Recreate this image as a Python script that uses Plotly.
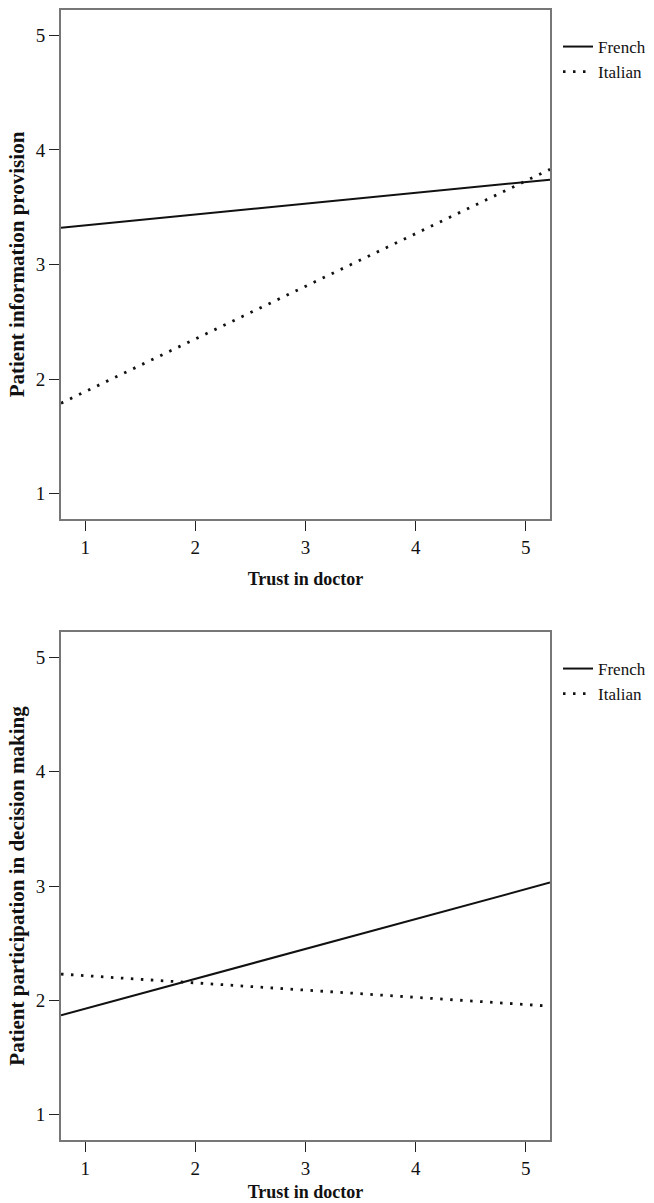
import plotly.graph_objects as go

# Data: fitted lines (endpoints at axis range limits)
trust = [0.78, 5.22]
info_french = [3.32, 3.74]
info_italian = [1.79, 3.83]
decision_french = [1.87, 3.03]
decision_italian = [2.23, 1.95]
tick_vals = [1, 2, 3, 4, 5]
tick_text = ["1", "2", "3", "4", "5"]
groups = ["French", "Italian"]

W, H = 654, 1203
FONT = "Liberation Serif"

fig = go.Figure()

solid = dict(color="#111111", width=2)
dotted = dict(color="#111111", width=2.8, dash="2.5px,7.5px")

fig.add_trace(go.Scatter(x=trust, y=info_french, mode="lines", name=groups[0],
                         line=solid, xaxis="x", yaxis="y", legend="legend"))
fig.add_trace(go.Scatter(x=trust, y=info_italian, mode="lines", name=groups[1],
                         line=dotted, xaxis="x", yaxis="y", legend="legend"))
fig.add_trace(go.Scatter(x=trust, y=decision_french, mode="lines", name=groups[0],
                         line=solid, xaxis="x2", yaxis="y2", legend="legend2"))
fig.add_trace(go.Scatter(x=trust, y=decision_italian, mode="lines", name=groups[1],
                         line=dotted, xaxis="x2", yaxis="y2", legend="legend2"))

def px_x(p):
    return p / W

def px_y(p):
    return 1 - p / H

axis_common = dict(
    range=[0.78, 5.22], tickmode="array", tickvals=tick_vals, ticktext=tick_text,
    showgrid=False, zeroline=False, showline=True, mirror=True,
    linecolor="#777777", linewidth=1.8, ticks="outside", ticklen=10,
    tickwidth=1.4, tickcolor="#222222",
    tickfont=dict(family=FONT, size=19, color="#111111"),
    fixedrange=True,
)

xdom = [px_x(61), px_x(550)]
fig.update_layout(
    width=W, height=H,
    margin=dict(l=0, r=0, t=0, b=0),
    paper_bgcolor="white", plot_bgcolor="white",
    font=dict(family=FONT, color="#111111"),
    xaxis=dict(axis_common, domain=xdom, anchor="y",
               title=dict(text="<b>Trust in doctor</b>", font=dict(family=FONT, size=18), standoff=16)),
    yaxis=dict(axis_common, domain=[px_y(519), px_y(10)], anchor="x",
               title=dict(text="<b>Patient information provision</b>", font=dict(family=FONT, size=21), standoff=5)),
    xaxis2=dict(axis_common, domain=xdom, anchor="y2",
                title=dict(text="<b>Trust in doctor</b>", font=dict(family=FONT, size=18), standoff=8)),
    yaxis2=dict(axis_common, domain=[px_y(1140), px_y(632)], anchor="x2",
                title=dict(text="<b>Patient participation in decision making</b>", font=dict(family=FONT, size=21), standoff=5)),
    legend=dict(x=px_x(558), y=px_y(29), xanchor="left", yanchor="top",
                font=dict(family=FONT, size=17, color="#111111"),
                bgcolor="rgba(0,0,0,0)", tracegroupgap=0, itemwidth=30),
    legend2=dict(x=px_x(558), y=px_y(651), xanchor="left", yanchor="top",
                 font=dict(family=FONT, size=17, color="#111111"),
                 bgcolor="rgba(0,0,0,0)", tracegroupgap=0, itemwidth=30),
    showlegend=True,
)

fig.write_html("out.html", config={"displayModeBar": False},
               post_script="document.body.style.margin='0';")
